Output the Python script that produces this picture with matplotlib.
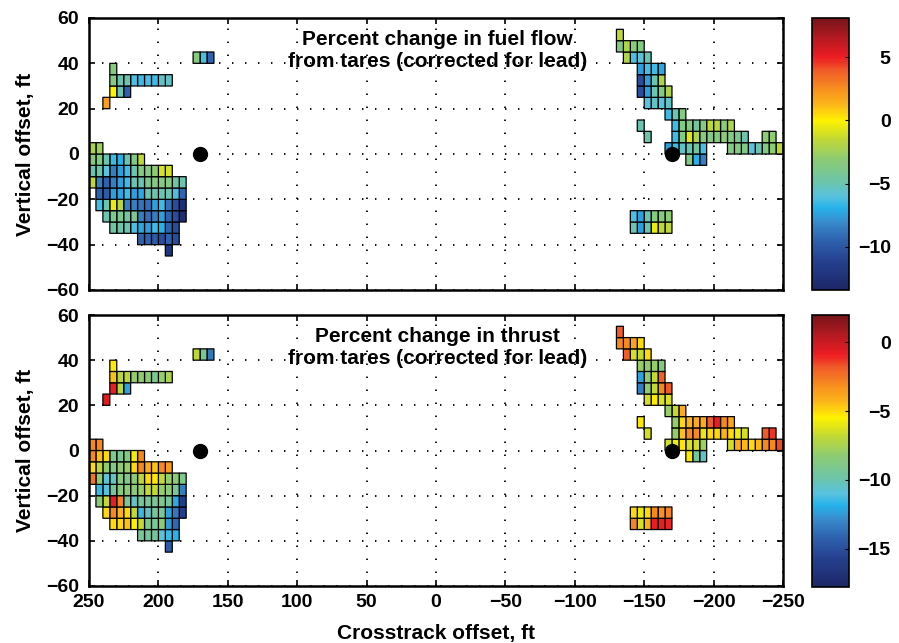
import numpy as np
import matplotlib
matplotlib.use("Agg")
import matplotlib.pyplot as plt
from matplotlib.colors import LinearSegmentedColormap

plt.rcParams['font.family'] = ['Liberation Sans', 'DejaVu Sans']

# ---------------- data ----------------
# each run: row centre (ft), centre of first cell (largest crosstrack), cells go toward smaller x
run_y = [42.5, 37.5, 32.5, 27.5, 22.5, 2.5, -2.5, -7.5, -12.5, -17.5, -22.5, -27.5, -32.5, -37.5, -42.5,
         52.5, 47.5, 42.5, 37.5, 32.5, 27.5, 22.5, 17.5, 12.5, 12.5, 7.5, 7.5, 7.5, 2.5, 2.5, -2.5, -27.5, -32.5]
run_x0 = [172.5, 232.5, 232.5, 232.5, 237.5, 247.5, 247.5, 247.5, 247.5, 242.5, 242.5, 237.5, 232.5, 212.5, 192.5,
          -132.5, -132.5, -137.5, -147.5, -147.5, -147.5, -152.5, -167.5, -147.5, -172.5, -152.5, -172.5, -237.5,
          -167.5, -212.5, -182.5, -142.5, -142.5]

fuel_runs = [
    [-3.5, -6.2, -9.5],
    [-3.5],
    [-3.5, -5, -5, -6.2, -6.5, -6.2, -6.5, -5.5, -5.5],
    [0, -5, -9.5],
    [2.0],
    [-2.2, -2.5],
    [-3.5, -3.5, -5, -6.5, -7, -5, -3.8, -1.5],
    [-5, -4.8, -6, -8.5, -7.5, -6.5, -5, -3.5, -3.5, -3, -1, -1],
    [-1.5, -8.5, -9.5, -8.5, -7.5, -6.5, -5, -5, -4, -3.5, -3.5, -3.5, -4.8, -5],
    [-9.5, -9.8, -7.5, -7.3, -6.5, -7.5, -7.2, -5, -5, -5, -5, -6.2, -9.3],
    [-6.3, -5, -0.5, -1.8, -8.5, -8.5, -8.8, -9, -7.5, -6.5, -9, -10.5, -12.5],
    [-5, -4, -4, -4.5, -4, -8.5, -9, -8.5, -7.5, -9.5, -10.5, -12.8],
    [-4.5, -4.8, -5, -6.2, -7.3, -7.5, -6.5, -7, -9.5, -10.5],
    [-9.5, -9.5, -9.8, -10.5, -9.5, -10.5],
    [-12],
    [-1.5],
    [-3.5, -2, -3.2, -3.5],
    [-2, -6.2, -5.8, -5],
    [-7.5, -6.3, -6.5, -7.3],
    [-10.5, -7.5, -5, -2],
    [-10.5, -7.5, -5, -3.5, -2],
    [-6, -5.5, -6, -5.5],
    [-6.5, -5, -3.5],
    [-5],
    [-6.5, -3.5, -3.5, -4.5, -3.5, -1.5, -1.8, -3, -2],
    [-4.8],
    [-6.5, -3.5, -0.8, -2, -3.5, -3.5, -3.5, -3.2, -3.5, -4, -5],
    [-3, -3],
    [-7.5, -6.5, -5.5, -5, -4.5, -6.2],
    [-3.5, -3.5, -3.8, -6, -5, -3.5, -3, -1.5],
    [-3.5, -7, -8.5],
    [-6.2, -7.5, -5, -3.5, -3.5, -3],
    [-5, -7.5, -5, -0.5, -1.5, -1.5],
]

thrust_runs = [
    [-7, -9.5, -13.5],
    [-5.3],
    [-4.5, -7, -7, -8, -8.2, -8.2, -9.2, -8, -7.5],
    [-0.8, -7, -12.3],
    [-0.5],
    [-3, -3],
    [-3, -4.5, -5, -9.2, -9.2, -8.8, -5.8, -3],
    [-5, -7, -8.2, -8.8, -8.2, -8, -5, -3, -4, -4.5, -3, -3.5],
    [-2.5, -8.3, -10.8, -10.5, -8.5, -9, -8.3, -7, -5, -5.2, -6.8, -8, -8.3, -9],
    [-11.5, -11, -9.5, -8.5, -8.3, -8.3, -8, -6.8, -6.8, -8, -8.3, -9.3, -13.3],
    [-8.3, -6.8, -0.8, -2.8, -9.3, -10.5, -9.5, -9.5, -9.3, -9, -9.5, -12, -16],
    [-5, -3, -4.2, -5, -6.8, -11.5, -10.5, -9.5, -9.3, -12.3, -13.5, -16],
    [-5, -5, -4.5, -5.5, -6.8, -9, -9.3, -8.3, -12.5, -14],
    [-9.3, -9.5, -9.5, -10.8, -11.5, -11.8],
    [-14.5],
    [-1.8],
    [-3, -3, -3.8, -5],
    [-1.8, -6.5, -6.8, -5],
    [-8, -8.2, -8, -8.8],
    [-12.3, -8.2, -6.8, -2],
    [-13.3, -8.2, -6.8, -3, -1.8],
    [-6.5, -5.3, -6.3, -6.3],
    [-8, -6.8, -4],
    [-5.2],
    [-8, -5, -4.2, -4, -4, -1.8, -0.8, -3, -3.8],
    [-6.5],
    [-8, -4.5, -3, -3, -6, -5, -5, -4.2, -5, -5.8, -6.5],
    [-1.8, -1.2],
    [-6.5, -5.8, -5.2, -6.3, -6.5, -7.8],
    [-6.5, -4, -4.3, -5, -4.3, -3, -3, -1.5],
    [-5.2, -9.5, -10.5],
    [-5, -6, -5, -3, -3.2, -2.8],
    [-2.8, -6.5, -4, -0.8, -0.8, -1],
]

ref_x = [170, -170]
ref_y = [0, 0]

titles = ["Percent change in fuel flow\nfrom tares (corrected for lead)",
          "Percent change in thrust\nfrom tares (corrected for lead)"]
clims = [(-13.4, 8.1), (-17.8, 2.0)]
cbar_ticks = [[5, 0, -5, -10], [0, -5, -10, -15]]
xticks = [250, 200, 150, 100, 50, 0, -50, -100, -150, -200, -250]
yticks = [-60, -40, -20, 0, 20, 40, 60]
cell = 5.0

# ---------------- colormap ----------------
cmap = LinearSegmentedColormap.from_list("softjet", [
    (0.00, (0.11, 0.15, 0.40)),
    (0.11, (0.15, 0.26, 0.57)),
    (0.18, (0.18, 0.38, 0.68)),
    (0.25, (0.22, 0.55, 0.80)),
    (0.30, (0.15, 0.70, 0.92)),
    (0.345, (0.35, 0.76, 0.87)),
    (0.40, (0.43, 0.77, 0.66)),
    (0.485, (0.56, 0.80, 0.44)),
    (0.555, (0.76, 0.85, 0.20)),
    (0.623, (1.00, 0.95, 0.00)),
    (0.68, (0.99, 0.72, 0.10)),
    (0.74, (0.97, 0.56, 0.12)),
    (0.81, (0.94, 0.35, 0.16)),
    (0.856, (0.93, 0.11, 0.14)),
    (0.93, (0.70, 0.10, 0.13)),
    (1.00, (0.46, 0.08, 0.10)),
])

xe = np.arange(-250, 250 + cell, cell)
ye = np.arange(-60, 60 + cell, cell)


def build_grid(runs):
    Z = np.full((len(ye) - 1, len(xe) - 1), np.nan)
    for yc, x0, vals in zip(run_y, run_x0, runs):
        j = int(np.floor((yc - ye[0]) / cell))
        for m, v in enumerate(vals):
            xc = x0 - cell * m
            i = int(np.floor((xc - xe[0]) / cell))
            Z[j, i] = v
    return np.ma.masked_invalid(Z)


TFS = 14       # tick label size
LFS = 15       # axis label / title size

fig = plt.figure(figsize=(8.99, 6.43), dpi=100)
W, H = 899, 643
ax_pos = [(89, 18, 783, 290), (89, 315, 783, 586)]
cb_pos = [(812, 18, 849, 290), (812, 315, 849, 587)]

for p, runs in enumerate([fuel_runs, thrust_runs]):
    l, t, r, b = ax_pos[p]
    ax = fig.add_axes([l / W, 1 - b / H, (r - l) / W, (b - t) / H])
    Z = build_grid(runs)
    mesh = ax.pcolor(xe, ye, Z, cmap=cmap, vmin=clims[p][0], vmax=clims[p][1],
                     edgecolors='black', linewidth=0.9, zorder=2)
    ax.plot(ref_x, ref_y, 'o', color='black', markersize=10, zorder=3)
    ax.set_xlim(250, -250)
    ax.set_ylim(-60, 60)
    ax.set_xticks(xticks)
    ax.set_yticks(yticks)
    ax.grid(True, color='black', linestyle=(0, (0.8, 6.4)), linewidth=1.3, zorder=1)
    ax.set_axisbelow(True)
    ax.tick_params(direction='in', length=4, width=1.2, top=True, right=True,
                   labelsize=TFS)
    ax.tick_params(axis='y', pad=7)
    ax.tick_params(axis='x', pad=6)
    for lab in ax.get_xticklabels() + ax.get_yticklabels():
        lab.set_fontweight('bold')
    for sp in ax.spines.values():
        sp.set_linewidth(1.8)
    ax.set_ylabel("Vertical offset, ft", fontsize=LFS, fontweight='bold', labelpad=8)
    if p == 0:
        ax.tick_params(labelbottom=False)
    else:
        ax.set_xlabel("Crosstrack offset, ft", fontsize=LFS, fontweight='bold', labelpad=9)
    ax.text(0.502, 0.957, titles[p], transform=ax.transAxes, ha='center', va='top',
            fontsize=LFS, fontweight='bold', linespacing=1.25, zorder=4)

    l, t, r, b = cb_pos[p]
    cax = fig.add_axes([l / W, 1 - b / H, (r - l) / W, (b - t) / H])
    cb = fig.colorbar(mesh, cax=cax, ticks=cbar_ticks[p])
    cb.outline.set_linewidth(1.2)
    cax.tick_params(direction='in', length=3, labelsize=TFS, pad=30)
    for lab in cax.get_yticklabels():
        lab.set_fontweight('bold')
        lab.set_horizontalalignment('right')

fig.savefig("out.png", dpi=100)
